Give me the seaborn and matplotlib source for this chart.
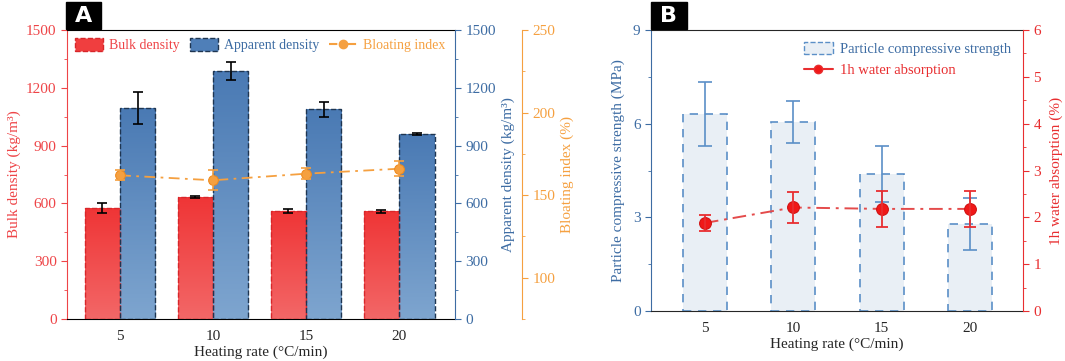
import numpy as np
import pandas as pd
import matplotlib.pyplot as plt
import seaborn as sns
from matplotlib.patches import Patch, Rectangle
from matplotlib.lines import Line2D
from matplotlib.colors import LinearSegmentedColormap
from matplotlib.ticker import MultipleLocator

# data
rates = [5, 10, 15, 20]
bulk = [576, 634, 562, 558]
bulk_err = [25, 5, 10, 10]
apparent = [1095, 1288, 1088, 960]
apparent_err = [85, 45, 40, 5]
bloating = [162, 159, 163, 166]
bloating_err = [3, 6, 3.5, 4.5]
strength = [6.31, 6.06, 4.38, 2.79]
strength_err = [1.03, 0.68, 0.9, 0.83]
absorption = [1.88, 2.21, 2.18, 2.18]
absorption_err = [0.18, 0.33, 0.38, 0.38]

RED = '#F03E3F'
RED_TXT = '#EE4447'
BLUE = '#4F7FB8'
BLUE_TXT = '#3D6CA3'
NAVY = '#1E3551'
ORANGE = '#F5A040'
LIGHT = '#E9EFF5'
BBLUE = '#5B8FC7'
WRED = '#E82E30'

sns.set_style('ticks')
plt.rcParams['font.family'] = ['Liberation Serif', 'DejaVu Serif']
plt.rcParams['font.size'] = 11

fig = plt.figure(figsize=(10.65, 3.61), dpi=100)
W, H = 1065, 361
axA = fig.add_axes([67 / W, 1 - 319 / H, 388 / W, 289 / H])
axB = fig.add_axes([651 / W, 1 - 311 / H, 372 / W, 281 / H])


def gradient_fill(ax, patch, c_top, c_bot):
    x0, w, h = patch.get_x(), patch.get_width(), patch.get_height()
    cmap = LinearSegmentedColormap.from_list('g', [c_bot, c_top])
    grad = np.linspace(0, 1, 100).reshape(-1, 1)
    im = ax.imshow(grad, extent=[x0, x0 + w, 0, h], origin='lower',
                   aspect='auto', cmap=cmap, zorder=0.9)
    im.set_clip_path(patch)
    patch.set_facecolor('none')


def style_tick_axis(ax, side, color):
    ax.tick_params(axis='y', which='both', colors=color, direction='out',
                   labelcolor=color, labelsize=11)
    ax.tick_params(axis='y', which='major', length=4)
    ax.tick_params(axis='y', which='minor', length=2.5)
    ax.spines[side].set_color(color)


# ---------------- Panel A ----------------
dfA = pd.DataFrame({
    'rate': rates * 2,
    'value': bulk + apparent,
    'series': ['Bulk density'] * 4 + ['Apparent density'] * 4,
})
sns.barplot(data=dfA, x='rate', y='value', hue='series',
            hue_order=['Bulk density', 'Apparent density'],
            native_scale=True, width=0.76, palette=[RED, BLUE],
            errorbar=None, legend=False, ax=axA, linestyle='--', linewidth=1.0)

cont_bulk, cont_app = axA.containers[0], axA.containers[1]
for p in cont_bulk:
    p.set_edgecolor('#D8262A')
    gradient_fill(axA, p, '#EF3536', '#F36767')
for p in cont_app:
    p.set_edgecolor(NAVY)
    gradient_fill(axA, p, '#4A7AB4', '#7EA5CF')

for cont, errs in [(cont_bulk, bulk_err), (cont_app, apparent_err)]:
    for p, e in zip(cont, errs):
        axA.errorbar(p.get_x() + p.get_width() / 2, p.get_height(), yerr=e,
                     color='black', capsize=3.5, elinewidth=1.2,
                     capthick=1.2, zorder=3)

axA.set_xlim(2.15, 23.0)
axA.set_ylim(0, 1500)
axA.set_xticks(rates)
axA.tick_params(axis='x', length=0, labelsize=11, pad=8)
axA.yaxis.set_major_locator(MultipleLocator(300))
axA.yaxis.set_minor_locator(MultipleLocator(150))
axA.set_xlabel('Heating rate (°C/min)', fontsize=11, labelpad=2)
axA.set_ylabel('Bulk density (kg/m³)', color=RED_TXT, fontsize=11, labelpad=4)
style_tick_axis(axA, 'left', RED_TXT)
axA.spines['right'].set_visible(False)
axA.spines['top'].set_color('black')
axA.spines['bottom'].set_color('black')

axA2 = axA.twinx()
axA2.set_ylim(0, 1500)
axA2.yaxis.set_major_locator(MultipleLocator(300))
axA2.yaxis.set_minor_locator(MultipleLocator(150))
for s in ['left', 'top', 'bottom']:
    axA2.spines[s].set_visible(False)
style_tick_axis(axA2, 'right', BLUE_TXT)
axA2.set_ylabel('Apparent density (kg/m³)', color=BLUE_TXT, fontsize=11, labelpad=4)

axA3 = axA.twinx()
axA3.spines['right'].set_position(('axes', 1 + 67 / 388))
for s in ['left', 'top', 'bottom']:
    axA3.spines[s].set_visible(False)
sns.lineplot(x=rates, y=bloating, ax=axA3, color=ORANGE, marker='o',
             markersize=7, markeredgecolor='#EE8A1E',
             linestyle=(0, (6, 3, 1.5, 3)), linewidth=1.3, zorder=4)
axA3.errorbar(rates, bloating, yerr=bloating_err, fmt='none', ecolor=ORANGE,
              capsize=3.5, elinewidth=1.2, capthick=1.2, zorder=4)
axA3.set_ylim(75, 250)
axA3.yaxis.set_major_locator(MultipleLocator(50))
axA3.yaxis.set_minor_locator(MultipleLocator(25))
style_tick_axis(axA3, 'right', ORANGE)
axA3.set_ylabel('Bloating index (%)', color=ORANGE, fontsize=11, labelpad=4)
axA.set_xlim(2.15, 23.0)

handlesA = [
    Patch(facecolor=RED, edgecolor='#D8262A', linestyle='--', label='Bulk density'),
    Patch(facecolor=BLUE, edgecolor=NAVY, linestyle='--', label='Apparent density'),
    Line2D([], [], color=ORANGE, marker='o', markersize=6,
           linestyle=(0, (4, 2, 1, 2)), label='Bloating index'),
]
legA = axA3.legend(handles=handlesA, loc='upper left', bbox_to_anchor=(0.0, 1.0),
                   ncol=3, frameon=False, fontsize=10, handlelength=2.0,
                   handleheight=1.0, handletextpad=0.45, columnspacing=0.7,
                   borderaxespad=0.3, borderpad=0.3)
for t, c in zip(legA.get_texts(), [RED_TXT, BLUE_TXT, ORANGE]):
    t.set_color(c)

# ---------------- Panel B ----------------
sns.barplot(x=rates, y=strength, native_scale=True, width=0.5, color=LIGHT,
            errorbar=None, ax=axB, linestyle=(0, (5, 4)), linewidth=1.2,
            edgecolor=BBLUE, saturation=1)
for p, e in zip(axB.containers[0], strength_err):
    p.set_facecolor(LIGHT)
    axB.errorbar(p.get_x() + p.get_width() / 2, p.get_height(), yerr=e,
                 color=BBLUE, capsize=5, elinewidth=1.2, capthick=1.2, zorder=3)
axB.set_xlim(1.95, 23.0)
axB.set_ylim(0, 9)
axB.set_xticks(rates)
axB.tick_params(axis='x', length=0, labelsize=11, pad=8)
axB.yaxis.set_major_locator(MultipleLocator(3))
axB.yaxis.set_minor_locator(MultipleLocator(1.5))
axB.set_xlabel('Heating rate (°C/min)', fontsize=11, labelpad=2)
axB.set_ylabel('Particle compressive strength (MPa)', color=BLUE_TXT,
               fontsize=11, labelpad=6)
style_tick_axis(axB, 'left', BLUE_TXT)
axB.spines['right'].set_visible(False)

axB2 = axB.twinx()
for s in ['left', 'top', 'bottom']:
    axB2.spines[s].set_visible(False)
sns.lineplot(x=rates, y=absorption, ax=axB2, color='#E44B4B', marker='o',
             markersize=8.5, markerfacecolor='#F01818', markeredgecolor='#D01010',
             linestyle=(0, (7, 3, 1.5, 3)), linewidth=1.4, zorder=4)
axB2.errorbar(rates, absorption, yerr=absorption_err, fmt='none', ecolor=WRED,
              capsize=4.5, elinewidth=1.3, capthick=1.3, zorder=4)
axB2.set_ylim(0, 6)
axB2.yaxis.set_major_locator(MultipleLocator(1))
axB2.yaxis.set_minor_locator(MultipleLocator(0.5))
style_tick_axis(axB2, 'right', WRED)
axB2.set_ylabel('1h water absorption (%)', color=WRED, fontsize=11, labelpad=6)
axB.set_xlim(1.95, 23.0)

handlesB = [
    Patch(facecolor=LIGHT, edgecolor=BBLUE, linestyle='--',
          label='Particle compressive strength'),
    Line2D([], [], color=WRED, marker='o', markersize=6, markerfacecolor='#F01818',
           linestyle='-', label='1h water absorption'),
]
legB = axB2.legend(handles=handlesB, loc='upper right', frameon=False,
                   fontsize=10.5, handlelength=2.0, handleheight=0.9,
                   handletextpad=0.5, labelspacing=0.5, borderaxespad=0.4)
for t, c in zip(legB.get_texts(), [BLUE_TXT, WRED]):
    t.set_color(c)

# panel tags
for x0, x1, lab in [(66, 101, 'A'), (651, 687, 'B')]:
    fig.add_artist(Rectangle((x0 / W, 1 - 29 / H), (x1 - x0) / W, 27 / H,
                             color='black', transform=fig.transFigure))
    fig.text((x0 + x1) / 2 / W, 1 - 15.5 / H, lab, color='white',
             fontsize=16, fontweight='bold', family='DejaVu Sans',
             ha='center', va='center')

fig.savefig('out.png', dpi=100)
